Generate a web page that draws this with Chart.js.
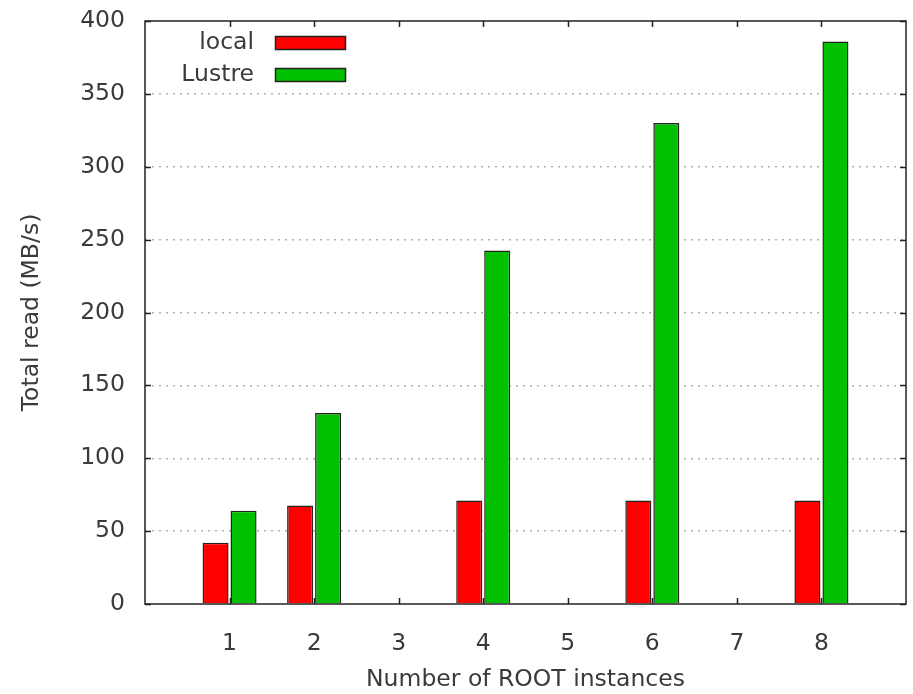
<!DOCTYPE html>
<html>
<head>
<meta charset="utf-8">
<script src="https://cdn.jsdelivr.net/npm/chart.js@4.4.0/dist/chart.umd.min.js"></script>
<style>
  html, body { margin: 0; padding: 0; background: #fff; }
  #wrap { width: 913px; height: 694px; }
</style>
</head>
<body>
<div id="wrap"><canvas id="myChart" width="913" height="694"></canvas></div>
<script>
// data
const instances = ['0', '1', '2', '3', '4', '5', '6', '7', '8', '9'];
const localRead = [null, 42, 67.5, null, 71, null, 71, null, 71, null];
const lustreRead = [null, 64, 131, null, 242.5, null, 330, null, 386, null];
const yTicks = [0, 50, 100, 150, 200, 250, 300, 350, 400];

const FONT = 'DejaVu Sans';
Chart.defaults.font.family = FONT;
Chart.defaults.font.size = 23.5;
Chart.defaults.color = '#3a3a3a';

// gnuplot style frame, inward ticks and in-plot legend
const gnuFrame = {
    id: 'gnuFrame',
    afterDraw(chart) {
        const ctx = chart.ctx;
        const a = chart.chartArea;
        const xs = chart.scales.x, ys = chart.scales.y;
        ctx.save();
        ctx.strokeStyle = '#222';
        ctx.lineWidth = 1.5;
        ctx.strokeRect(a.left, a.top, a.right - a.left, a.bottom - a.top);

        ctx.beginPath();
        yTicks.forEach(v => {
            const y = Math.round(ys.getPixelForValue(v)) + 0.5;
            ctx.moveTo(a.left, y); ctx.lineTo(a.left + 6, y);
            ctx.moveTo(a.right, y); ctx.lineTo(a.right - 6, y);
        });
        for (let i = 1; i <= 8; i++) {
            const x = Math.round(xs.getPixelForValue(i)) + 0.5;
            ctx.moveTo(x, a.bottom); ctx.lineTo(x, a.bottom - 6);
            ctx.moveTo(x, a.top); ctx.lineTo(x, a.top + 6);
        }
        ctx.stroke();

        // legend: text right aligned, swatch on the right
        ctx.font = '23.5px ' + FONT;
        ctx.textAlign = 'right';
        ctx.textBaseline = 'middle';
        chart.data.datasets.forEach((ds, i) => {
            const cy = 43 + i * 32;
            ctx.fillStyle = '#3a3a3a';
            ctx.fillText(ds.label, 254, cy);
            ctx.fillStyle = ds.backgroundColor;
            ctx.fillRect(275.5, cy - 6.5, 70, 13);
            ctx.strokeStyle = '#222';
            ctx.lineWidth = 1.5;
            ctx.strokeRect(275.5, cy - 6.5, 70, 13);
        });
        ctx.restore();
    }
};

const ctx = document.getElementById('myChart').getContext('2d');
const myChart = new Chart(ctx, {
    type: 'bar',
    data: {
        labels: instances,
        datasets: [{
            label: 'local',
            data: localRead,
            backgroundColor: '#ff0000',
            borderColor: '#222',
            borderWidth: 1.5,
            categoryPercentage: 0.662,
            barPercentage: 0.93
        }, {
            label: 'Lustre',
            data: lustreRead,
            backgroundColor: '#00c000',
            borderColor: '#222',
            borderWidth: 1.5,
            categoryPercentage: 0.662,
            barPercentage: 0.93
        }]
    },
    options: {
        responsive: false,
        animation: false,
        layout: { padding: { top: 21, right: 7, left: 0, bottom: 0 } },
        plugins: {
            legend: { display: false },
            tooltip: { enabled: false }
        },
        scales: {
            x: {
                offset: false,
                grid: { display: false },
                border: { display: false },
                ticks: {
                    padding: 18,
                    maxRotation: 0,
                    autoSkip: false,
                    callback: (v, i) => (i === 0 || i === instances.length - 1) ? '' : instances[i]
                },
                title: {
                    display: true,
                    text: 'Number of ROOT instances',
                    padding: { top: 0, bottom: 0 }
                },
                afterFit: s => {
                    s.height = 90;
                    s.paddingLeft = 0;
                    s.paddingRight = 0;
                }
            },
            y: {
                min: 0,
                max: 400,
                afterBuildTicks: s => { s.ticks = yTicks.map(v => ({ value: v })); },
                grid: {
                    drawTicks: false,
                    lineWidth: 1.5,
                    color: c => (c.tick.value === 0 || c.tick.value === 400) ? 'rgba(0,0,0,0)' : '#b0b0b0'
                },
                border: { display: false, dash: [2, 5] },
                ticks: { padding: 20 },
                title: {
                    display: true,
                    text: 'Total read (MB/s)',
                    padding: { top: 18, bottom: 0 }
                },
                afterFit: s => {
                    s.width = 145;
                    s.paddingTop = 0;
                    s.paddingBottom = 0;
                }
            }
        }
    },
    plugins: [gnuFrame]
});
</script>
</body>
</html>
